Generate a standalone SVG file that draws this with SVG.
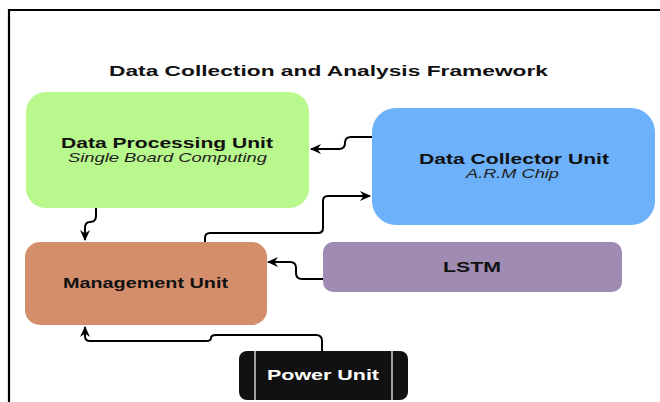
<svg xmlns="http://www.w3.org/2000/svg" width="660" height="402" viewBox="0 0 660 402">
  <style>
    .frame { fill: none; stroke: #000; stroke-width: 2.2; }
    .label { font-family: "Liberation Sans", Arial, sans-serif; font-weight: bold; fill: #111; }
    .sub { font-family: "Liberation Sans", Arial, sans-serif; font-style: italic; fill: #222; }
    .wire { fill: none; stroke: #000; stroke-width: 2; stroke-linejoin: round; marker-end: url(#arrow); }
  </style>
  <defs>
    <marker id="arrow" viewBox="0 0 12 12" refX="10" refY="6" markerWidth="12" markerHeight="12" markerUnits="userSpaceOnUse" orient="auto">
      <path d="M0,1 L11,6 L0,11 L3.5,6 Z" fill="#000"/>
    </marker>
  </defs>

  <rect width="660" height="402" fill="#fff"/>

  <!-- outer frame: top rule and left rule -->
  <path class="frame" d="M9,402 V10 H660"/>

  <!-- labels use a wide lettering: each text is stretched horizontally by 1.35 -->
  <text class="label" transform="scale(1.35,1)" x="80.74" y="76" font-size="14" textLength="325.2" lengthAdjust="spacingAndGlyphs">Data Collection and Analysis Framework</text>

  <g id="data-processing-unit">
    <rect x="26" y="92" width="283" height="116" rx="20" fill="#b9f88d"/>
    <text class="label" transform="scale(1.35,1)" x="45.19" y="148" font-size="15" textLength="157.04" lengthAdjust="spacingAndGlyphs">Data Processing Unit</text>
    <text class="sub" transform="scale(1.35,1)" x="50.37" y="162" font-size="12.5" textLength="147.4" lengthAdjust="spacingAndGlyphs">Single Board Computing</text>
  </g>

  <g id="data-collector-unit">
    <rect x="372" y="108" width="283" height="117" rx="24" fill="#6db1fb"/>
    <text class="label" transform="scale(1.35,1)" x="310.37" y="164" font-size="15" textLength="140.74" lengthAdjust="spacingAndGlyphs">Data Collector Unit</text>
    <text class="sub" transform="scale(1.35,1)" x="345.19" y="178" font-size="12.5" textLength="68.89" lengthAdjust="spacingAndGlyphs">A.R.M Chip</text>
  </g>

  <g id="management-unit">
    <rect x="25" y="242" width="242" height="83" rx="15" fill="#d48e6c"/>
    <text class="label" transform="scale(1.35,1)" x="46.67" y="288" font-size="15" textLength="122.22" lengthAdjust="spacingAndGlyphs">Management Unit</text>
  </g>

  <g id="lstm">
    <rect x="323" y="242" width="299" height="50" rx="10" fill="#a08cb2"/>
    <text class="label" transform="scale(1.35,1)" x="328.15" y="272" font-size="14.5" textLength="42.96" lengthAdjust="spacingAndGlyphs">LSTM</text>
  </g>

  <g id="power-unit">
    <rect x="239" y="351" width="169" height="49" rx="8" fill="#111"/>
    <path d="M255,351 V400 M392,351 V400" stroke="#d0d0d0" stroke-width="1.5"/>
    <text class="label" transform="scale(1.35,1)" x="197.78" y="380" font-size="15" style="fill:#fff" textLength="82.96" lengthAdjust="spacingAndGlyphs">Power Unit</text>
  </g>

  <g id="connectors">
    <!-- collector to processing -->
    <path class="wire" d="M372,137 H351 Q345,137 345,143 Q345,149 339,149 H311"/>
    <!-- management to collector -->
    <path class="wire" d="M205,242 V238 Q205,233 210,233 H318 Q323,233 323,228 V201 Q323,196 328,196 H370"/>
    <!-- processing to management -->
    <path class="wire" d="M96,208 V216 Q96,222 90,222 Q85,222 85,228 V240"/>
    <!-- lstm to management -->
    <path class="wire" d="M323,279 H302 Q296,279 296,273 V268 Q296,262 290,262 H268"/>
    <!-- power to management -->
    <path class="wire" d="M322,351 V341 Q322,335 316,335 H216 Q211,335 211,338 Q211,341 206,341 H90 Q85,341 85,336 V327"/>
  </g>
</svg>
